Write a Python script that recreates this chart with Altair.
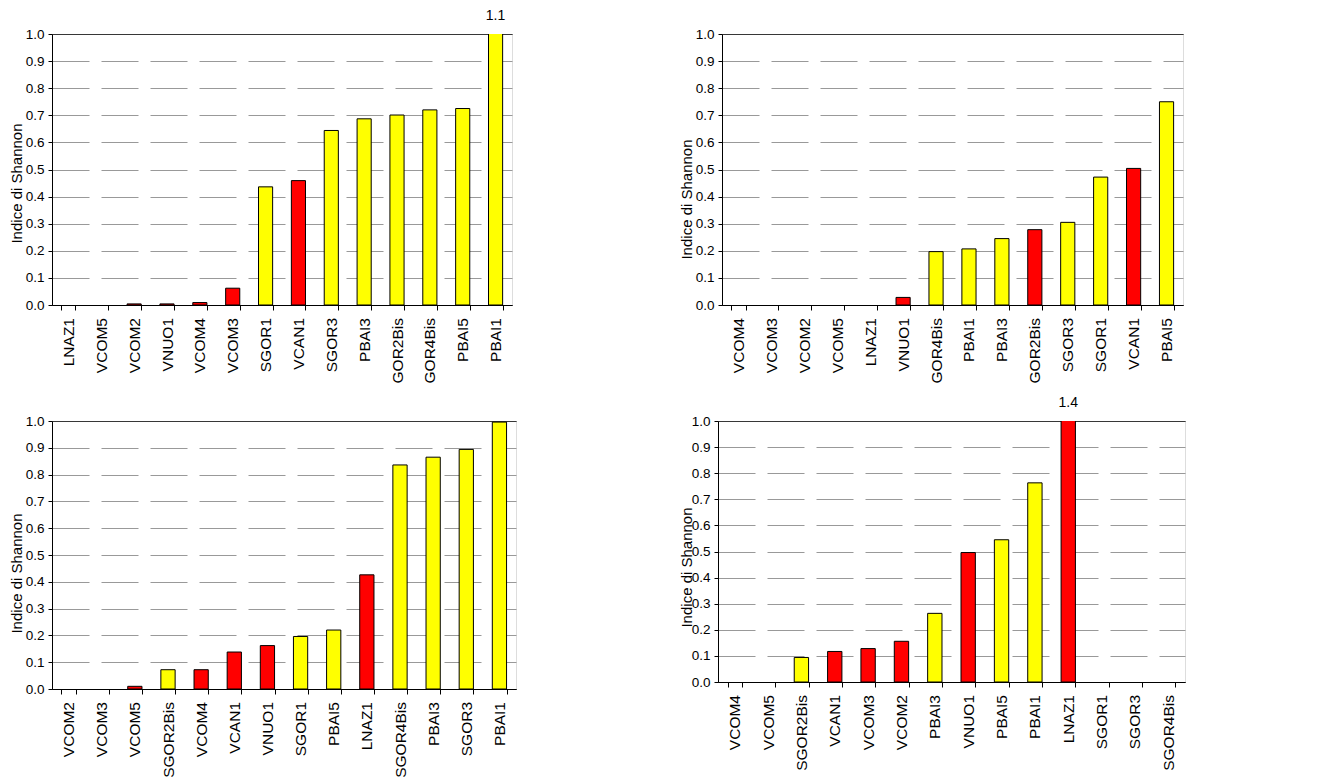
import altair as alt
import pandas as pd

# ---- data ----
p1_cats = ["LNAZ1", "VCOM5", "VCOM2", "VNUO1", "VCOM4", "VCOM3", "SGOR1", "VCAN1",
           "SGOR3", "PBAI3", "GOR2Bis", "GOR4Bis", "PBAI5", "PBAI1"]
p1_vals = [0.0, 0.0, 0.004, 0.004, 0.009, 0.062, 0.436, 0.459, 0.644, 0.687, 0.701, 0.720, 0.725, 1.1]
p1_grps = ["r", "r", "r", "r", "r", "r", "y", "r", "y", "y", "y", "y", "y", "y"]

p2_cats = ["VCOM4", "VCOM3", "VCOM2", "VCOM5", "LNAZ1", "VNUO1", "GOR4Bis", "PBAI1",
           "PBAI3", "GOR2Bis", "SGOR3", "SGOR1", "VCAN1", "PBAI5"]
p2_vals = [0.0, 0.0, 0.0, 0.0, 0.0, 0.028, 0.197, 0.207, 0.245, 0.278, 0.305, 0.472, 0.504, 0.750]
p2_grps = ["r", "r", "r", "r", "r", "r", "y", "y", "y", "r", "y", "y", "r", "y"]

p3_cats = ["VCOM2", "VCOM3", "VCOM5", "SGOR2Bis", "VCOM4", "VCAN1", "VNUO1", "SGOR1",
           "PBAI5", "LNAZ1", "SGOR4Bis", "PBAI3", "SGOR3", "PBAI1"]
p3_vals = [0.0, 0.0, 0.010, 0.072, 0.072, 0.138, 0.162, 0.196, 0.220, 0.426, 0.836, 0.865, 0.894, 0.996]
p3_grps = ["r", "r", "r", "y", "r", "r", "r", "y", "y", "r", "y", "y", "y", "y"]

p4_cats = ["VCOM4", "VCOM5", "SGOR2Bis", "VCAN1", "VCOM3", "VCOM2", "PBAI3", "VNUO1",
           "PBAI5", "PBAI1", "LNAZ1", "SGOR1", "SGOR3", "SGOR4Bis"]
p4_vals = [0.0, 0.0, 0.094, 0.117, 0.128, 0.156, 0.263, 0.496, 0.545, 0.763, 1.4, 0.0, 0.0, 0.0]
p4_grps = ["r", "r", "y", "r", "r", "r", "y", "r", "y", "y", "r", "y", "y", "y"]

y_ticks = [0.0, 0.1, 0.2, 0.3, 0.4, 0.5, 0.6, 0.7, 0.8, 0.9, 1.0]
y_title = "Indice di Shannon"

FONT = "Liberation Sans"

edge_test = "datum.value <= 0 || datum.value >= 1"


def panel(cats, vals, grps, width, height, title_x, title_y):
    df = pd.DataFrame({"cat": cats, "val": vals, "grp": grps})
    x = alt.X(
        "cat:N",
        sort=cats,
        title=None,
        scale=alt.Scale(domain=cats, paddingInner=0.57, paddingOuter=0.285),
        axis=alt.Axis(
            labelAngle=-90,
            labelFontSize=15.5,
            labelColor="black",
            labelPadding=7.5,
            tickBand="extent",
            tickSize=5,
            tickColor="black",
            domainColor="black",
            labelFont=FONT,
        ),
    )
    y = alt.Y(
        "val:Q",
        title=y_title,
        scale=alt.Scale(domain=[0, 1], nice=False, zero=True),
        axis=alt.Axis(
            values=y_ticks,
            format=".1f",
            labelFontSize=13.5,
            labelColor="black",
            labelFont=FONT,
            labelPadding=4,
            tickSize=4,
            tickColor="black",
            domainColor="black",
            titleFontSize=15,
            titleFontWeight="normal",
            titleColor="black",
            titleFont=FONT,
            titleX=title_x,
            titleY=title_y,
            titleBaseline="alphabetic",
            titleAlign="center",
            grid=True,
            gridColor={"condition": {"test": edge_test, "value": "black"}, "value": "#999999"},
            gridDash={"condition": {"test": edge_test, "value": [1, 0]}, "value": [37, 12]},
            gridWidth=1,
        ),
    )
    bars = (
        alt.Chart(df)
        .transform_filter("datum.val > 0")
        .mark_bar(stroke="black", strokeWidth=1, clip=True)
        .encode(
            x=x,
            y=y,
            color=alt.Color(
                "grp:N",
                scale=alt.Scale(domain=["r", "y"], range=["#ff0000", "#ffff00"]),
                legend=None,
            ),
        )
    )
    labels = (
        alt.Chart(df)
        .transform_filter("datum.val > 1")
        .mark_text(fontSize=14, font=FONT, color="black", baseline="alphabetic")
        .encode(
            x=alt.X("cat:N", sort=cats),
            y=alt.value(-14),
            text=alt.Text("val:Q", format=".1f"),
        )
    )
    return alt.layer(bars, labels).properties(width=width, height=height)


c1 = panel(p1_cats, p1_vals, p1_grps, 460, 271, -31, 149)
c2 = panel(p2_cats, p2_vals, p2_grps, 461, 271, -31, 165)
c3 = panel(p3_cats, p3_vals, p3_grps, 464, 268, -31, 152)
c4 = panel(p4_cats, p4_vals, p4_grps, 467, 261, -27, 146)

row1 = alt.hconcat(c1, c2, spacing=165)
row2 = alt.hconcat(c3, c4, spacing=161)

chart = (
    alt.vconcat(row1, row2, spacing=11)
    .configure_view(stroke="black", strokeWidth=1)
    .configure(font=FONT, padding=0, background="white")
)

chart.save("out.html", embed_options={"renderer": "svg", "actions": False})
